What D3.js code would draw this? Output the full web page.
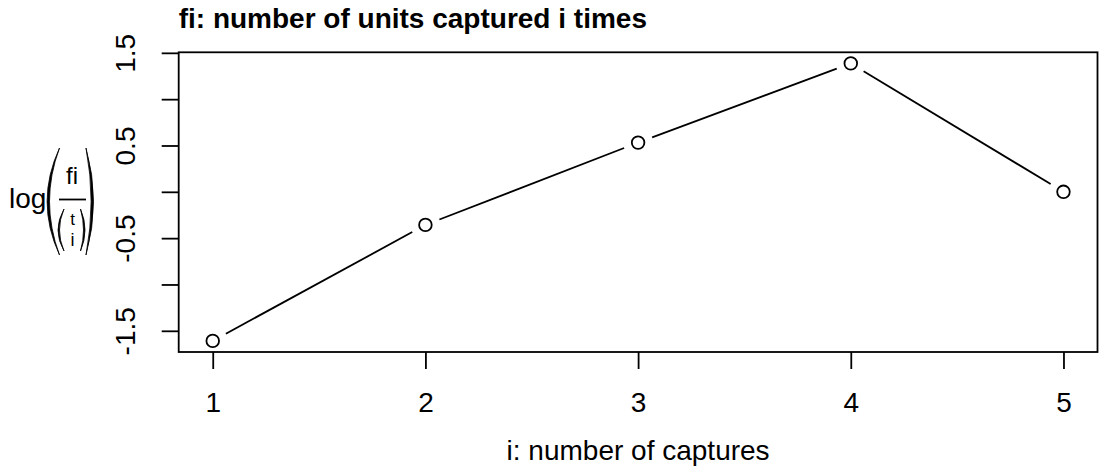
<!DOCTYPE html>
<html>
<head>
<meta charset="utf-8">
<script src="https://cdn.jsdelivr.net/npm/d3@7"></script>
<style>
  body { margin: 0; background: #fff; }
  svg { display: block; font-family: "Liberation Sans", Arial, sans-serif; font-variant-ligatures: none; }
</style>
</head>
<body>
<svg id="chart" width="1102" height="475"></svg>
<script>
// captures i and log(fi / choose(t, i))
var captures = [1, 2, 3, 4, 5]
var logRatio = [-1.609, -0.357, 0.531, 1.386, 0.0]
var yTicks = [-1.5, -1, -0.5, 0, 0.5, 1, 1.5]
var yLabelled = [-1.5, -0.5, 0.5, 1.5]
var title = "fi: number of units captured i times"
var xTitle = "i: number of captures"

var plot = {left: 178.7, right: 1097.5, top: 52.3, bottom: 352}
var fontSize = 28

var svg = d3.select("#chart")

// R style 4% padding on both axes
var xr = d3.extent(captures), yr = d3.extent(logRatio)
var xPad = (xr[1] - xr[0]) * 0.04, yPad = (yr[1] - yr[0]) * 0.04
var x = d3.scaleLinear().domain([xr[0] - xPad, xr[1] + xPad]).range([plot.left, plot.right])
var y = d3.scaleLinear().domain([yr[0] - yPad, yr[1] + yPad]).range([plot.bottom, plot.top])

var xAxis = svg.append("g")
    .attr("transform", "translate(0," + plot.bottom + ")")
    .call(d3.axisBottom(x).tickValues(captures).tickFormat(d3.format("d")).tickSizeOuter(0).tickSize(17))
xAxis.select(".domain").remove()
xAxis.selectAll("line").attr("stroke", "#000").attr("stroke-width", 1.8)
xAxis.selectAll("text")
    .attr("y", 60).attr("dy", 0)
    .attr("font-size", fontSize).attr("fill", "#000")
    .attr("font-family", null)

var yAxis = svg.append("g")
    .attr("transform", "translate(" + plot.left + ",0)")
    .call(d3.axisLeft(y).tickValues(yTicks)
        .tickFormat(function(d) { return yLabelled.indexOf(d) >= 0 ? d3.format(".1f")(d) : "" })
        .tickSizeOuter(0).tickSize(17))
yAxis.select(".domain").remove()
yAxis.selectAll("line").attr("stroke", "#000").attr("stroke-width", 1.8)
yAxis.selectAll("text")
    .attr("transform", "rotate(-90)")
    .attr("x", 0).attr("y", -44).attr("dy", 0)
    .attr("text-anchor", "middle")
    .attr("font-size", fontSize).attr("fill", "#000")
    .attr("font-family", null)
yAxis.selectAll("text").each(function() {
  // keep the minus sign as a hyphen, like R
  var t = d3.select(this); t.text(t.text().replace("\u2212", "-"))
})

// box
svg.append("rect")
    .attr("x", plot.left).attr("y", plot.top)
    .attr("width", plot.right - plot.left).attr("height", plot.bottom - plot.top)
    .attr("fill", "none").attr("stroke", "#000").attr("stroke-width", 1.8)

// type = "b": segments with a gap around each point
var gap = 15
var pts = captures.map(function(c, i) { return [x(c), y(logRatio[i])] })
for (var i = 0; i < pts.length - 1; i++) {
  var a = pts[i], b = pts[i + 1]
  var dx = b[0] - a[0], dy = b[1] - a[1], len = Math.sqrt(dx * dx + dy * dy)
  var ux = dx / len, uy = dy / len
  svg.append("line")
      .attr("x1", a[0] + ux * gap).attr("y1", a[1] + uy * gap)
      .attr("x2", b[0] - ux * gap).attr("y2", b[1] - uy * gap)
      .attr("stroke", "#000").attr("stroke-width", 1.8)
}
svg.selectAll("circle.pt").data(pts).enter().append("circle")
    .attr("class", "pt")
    .attr("cx", function(d) { return d[0] }).attr("cy", function(d) { return d[1] })
    .attr("r", 6.3)
    .attr("fill", "none").attr("stroke", "#000").attr("stroke-width", 1.8)

// title
svg.append("text")
    .attr("x", plot.left).attr("y", 28)
    .attr("font-size", fontSize).attr("font-weight", "bold")
    .text(title)

// x label
svg.append("text")
    .attr("x", (plot.left + plot.right) / 2).attr("y", 460)
    .attr("text-anchor", "middle").attr("font-size", fontSize)
    .text(xTitle)

// y label: log( fi / binom(t, i) )
var yl = svg.append("g")
yl.append("text").attr("x", 9).attr("y", 208).attr("font-size", fontSize).text("log")
function paren(g, xEnd, xMid, yTop, yBot, thick) {
  var ym = (yTop + yBot) / 2
  var cOut = 2 * xMid - xEnd
  var cIn = 2 * (xMid + (xEnd < xMid ? -thick : thick)) - xEnd
  g.append("path")
      .attr("d", "M" + xEnd + "," + yTop + "Q" + cOut + "," + ym + " " + xEnd + "," + yBot +
                 "Q" + cIn + "," + ym + " " + xEnd + "," + yTop + "Z")
      .attr("fill", "#000").attr("stroke", "#000").attr("stroke-width", 0.8)
}
paren(yl, 59.5, 49.5, 148, 255, -2.4)
paren(yl, 86, 93.5, 148, 255, 2.4)
yl.append("text").attr("x", 72).attr("y", 184).attr("text-anchor", "middle").attr("font-size", 24).text("fi")
yl.append("line").attr("x1", 59).attr("x2", 86).attr("y1", 199.5).attr("y2", 199.5)
    .attr("stroke", "#000").attr("stroke-width", 1.8)
paren(yl, 64, 59.5, 209, 251, -1.5)
paren(yl, 80.5, 85, 209, 251, 1.5)
yl.append("text").attr("x", 72.5).attr("y", 225).attr("text-anchor", "middle").attr("font-size", 17).text("t")
yl.append("text").attr("x", 72.5).attr("y", 246).attr("text-anchor", "middle").attr("font-size", 18).text("i")
</script>
</body>
</html>
